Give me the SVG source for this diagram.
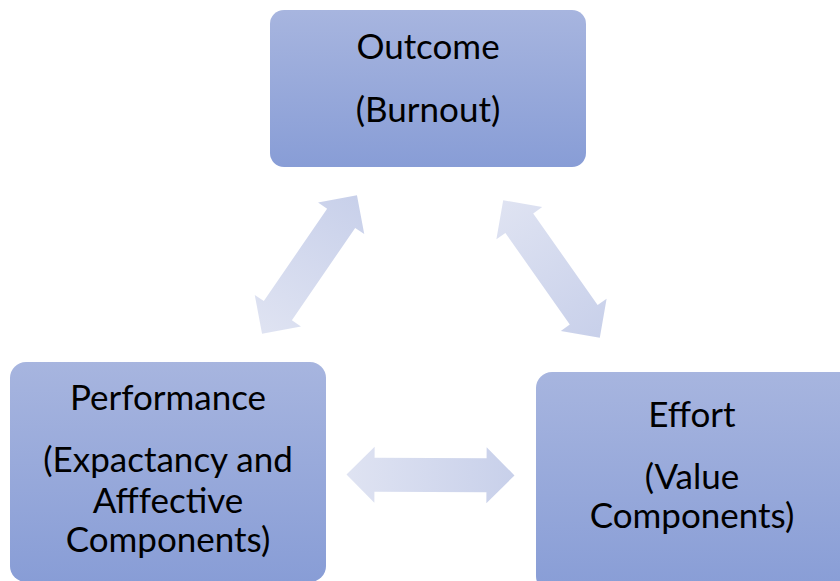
<svg xmlns="http://www.w3.org/2000/svg" width="840" height="581" viewBox="0 0 840 581">
<defs>
<linearGradient id="boxg" x1="0" y1="0" x2="0" y2="1">
<stop offset="0" stop-color="#a7b5df"/>
<stop offset="1" stop-color="#889dd6"/>
</linearGradient>
<linearGradient id="arrg" x1="0" y1="0" x2="1" y2="0">
<stop offset="0" stop-color="#dfe3f2"/>
<stop offset="1" stop-color="#c8d0ea"/>
</linearGradient>
<polygon id="dbl" points="-84,0 -56,-28 -56,-17 56,-17 56,-28 84,0 56,28 56,17 -56,17 -56,28"/>
</defs>
<style>
.box{fill:url(#boxg);}
.lbl{font-family:Lato,"Noto Sans","Liberation Sans",sans-serif;font-size:35px;fill:#000;text-anchor:middle;}
.arr{fill:url(#arrg);}
</style>
<rect width="840" height="581" fill="#ffffff"/>
<g id="connectors">
<use href="#dbl" class="arr" transform="translate(309.5,264.5) rotate(-55.6)"/>
<use href="#dbl" class="arr" transform="translate(551.5,269) rotate(54.9)"/>
<use href="#dbl" class="arr" transform="translate(430.5,475) rotate(0.3)"/>
</g>
<g id="outcome">
<rect class="box" x="270" y="10" width="316" height="157" rx="14"/>
<text class="lbl" x="428" y="59">Outcome</text>
<text class="lbl" x="428" y="122">(Burnout)</text>
</g>
<g id="performance">
<rect class="box" x="10" y="362" width="316" height="220" rx="16"/>
<text class="lbl" x="168" y="410">Performance</text>
<text class="lbl" x="168" y="472">(Expactancy and</text>
<text class="lbl" x="168" y="513">Afffective</text>
<text class="lbl" x="168" y="552">Components)</text>
</g>
<g id="effort">
<rect class="box" x="536" y="372" width="320" height="220" rx="16"/>
<text class="lbl" x="692" y="427">Effort</text>
<text class="lbl" x="692" y="489">(Value</text>
<text class="lbl" x="692" y="528">Components)</text>
</g>
</svg>
